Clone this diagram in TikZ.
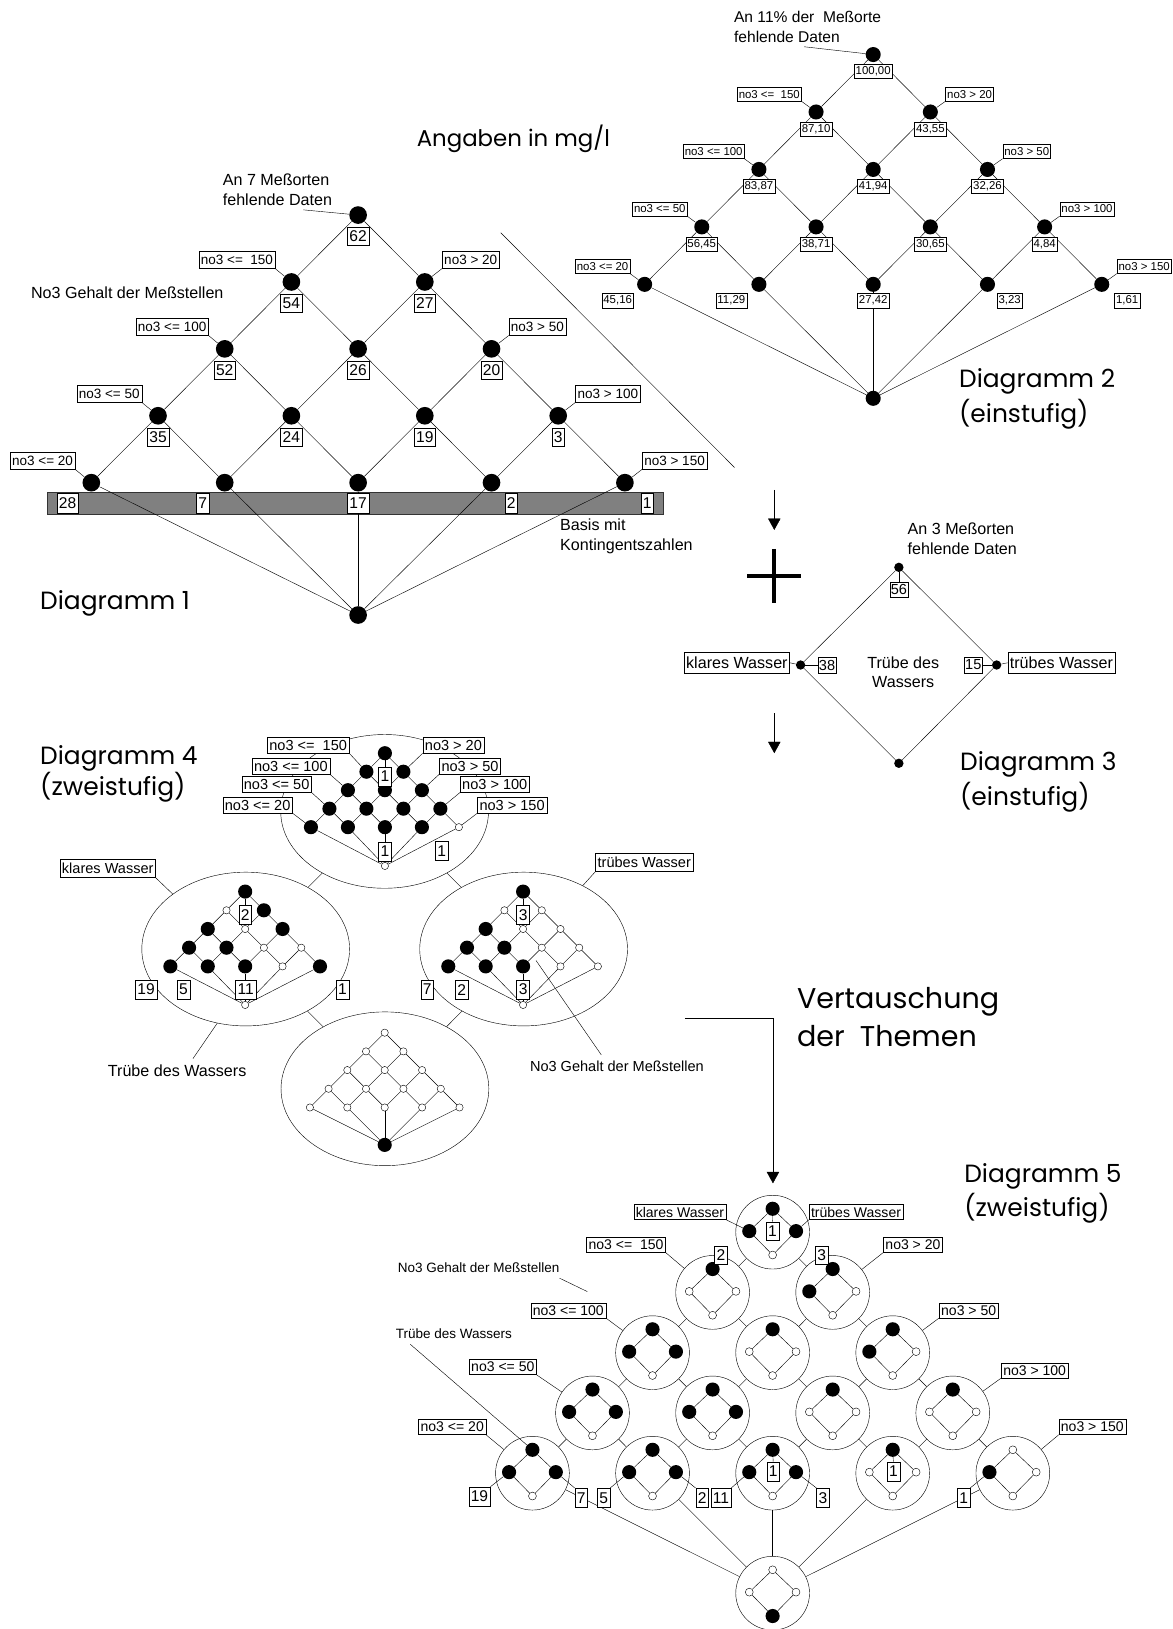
\documentclass[tikz,border=0pt]{standalone}
\usepackage{fontspec}
\setmainfont{Liberation Sans}
\newfontfamily\ttlfont{Poppins}
\usetikzlibrary{shapes.geometric,arrows.meta,calc}
\pgfdeclarelayer{bar}
\pgfdeclarelayer{lines}
\pgfsetlayers{bar,lines,main}
\newcommand\latedges[2]{%
  \foreach \r in {0,...,3}{\foreach \k in {0,...,\r}{%
    \pgfmathtruncatemacro\rn{\r+1}\pgfmathtruncatemacro\kn{\k+1}%
    \draw (#1\r\k) -- (#1\rn\k) (#1\r\k) -- (#1\rn\kn);}}%
  \foreach \k in {0,...,4}{\draw (#14\k) -- (#2);}}
\tikzset{
 lbl/.style={draw, fill=white, inner xsep=2pt, inner ysep=0pt},
 lA/.style={lbl, font=\fontsize{13}{15}\selectfont, minimum height=16.5pt},
 vA/.style={lbl, font=\fontsize{15}{17}\selectfont, minimum height=17.5pt},
 lB/.style={lbl, inner xsep=1.5pt, font=\fontsize{11}{13}\selectfont, minimum height=13.5pt},
 lC/.style={lbl, font=\fontsize{15.5}{17}\selectfont, minimum height=20.5pt},
 vC/.style={lbl, inner xsep=1pt, font=\fontsize{14}{16}\selectfont, minimum height=15pt},
 lD/.style={lbl, font=\fontsize{14}{16}\selectfont, minimum height=15.5pt},
 vD/.style={lbl, font=\fontsize{15}{17}\selectfont, minimum height=18.5pt},
 lE/.style={lbl, font=\fontsize{13.5}{15}\selectfont, minimum height=14.5pt},
 txt/.style={inner sep=0pt, align=left, font=\fontsize{15.5}{19}\selectfont},
 stxt/.style={inner sep=0pt, align=left, font=\fontsize{13}{15}\selectfont},
 ttl/.style={inner sep=0pt, align=left, font=\ttlfont\fontsize{24}{33}\selectfont},
 bA/.style={circle, fill=black, inner sep=0pt, minimum size=17pt},
 bB/.style={circle, fill=black, inner sep=0pt, minimum size=14.5pt},
 bC/.style={circle, fill=black, inner sep=0pt, minimum size=9pt},
 fb/.style={circle, fill=black, inner sep=0pt, minimum size=13.6pt},
 fw/.style={circle, draw, fill=white, inner sep=0pt, minimum size=7pt},
 gb/.style={circle, fill=black, inner sep=0pt, minimum size=13.6pt},
 gw/.style={circle, draw, fill=white, inner sep=0pt, minimum size=7.6pt},
 ell/.style={ellipse, draw, inner sep=0pt, minimum width=200pt, minimum height=148pt},
 circfive/.style={circle, draw, inner sep=0pt, minimum size=71pt},
 arr/.style={-{Triangle[width=12pt,length=11pt]}}
}
\begin{document}
\begin{tikzpicture}[x=1pt,y=-1pt,line width=1pt]
\useasboundingbox (0,0) rectangle (1129,1568);

%================ Diagram 1
\begin{pgfonlayer}{bar}
\draw[fill=black!50, draw=black!80] (45,473.5) rectangle (638,494.5);
\end{pgfonlayer}
\node[ttl, font=\ttlfont\fontsize{22}{26}\selectfont, anchor=north west] (angaben) at (401,120.3) {Angaben in mg/l};
\foreach \r in {0,...,4}{\foreach \k in {0,...,\r}{
  \node[bA] (A\r\k) at ({344.7+(2*\k-\r)*64.2},{207+\r*64.4}) {};}}
\node[bA] (Abot) at (344.7,592) {};
\foreach \r/\k/\v in {0/0/62,1/0/54,1/1/27,2/0/52,2/1/26,2/2/20,3/0/35,3/1/24,3/2/19,3/3/3}{
  \node[vA, anchor=north] (Av\r\k) at ($(A\r\k)+(0,11.5)$) {\v};}
\node[vA, minimum height=19.5pt] (Av40) at (65,484.5) {28};
\node[vA, minimum height=19.5pt] (Av41) at (195,484.5) {7};
\node[vA, minimum height=19.5pt] (Av42) at (344.7,484.5) {17};
\node[vA, minimum height=19.5pt] (Av43) at (492,484.5) {2};
\node[vA, minimum height=19.5pt] (Av44) at (623,484.5) {1};
\node[lA, anchor=south east] (Al1) at ($(A10)+(-15.5,-12.8)$) {no3 <=\ \ 150};
\node[lA, anchor=south east] (Al2) at ($(A20)+(-15.5,-12.8)$) {no3 <= 100};
\node[lA, anchor=south east] (Al3) at ($(A30)+(-15.5,-12.8)$) {no3 <= 50};
\node[lA, anchor=south east] (Al4) at ($(A40)+(-15.5,-12.8)$) {no3 <= 20};
\node[lA, anchor=south west] (Ar1) at ($(A11)+(16.5,-12.8)$) {no3 > 20};
\node[lA, anchor=south west] (Ar2) at ($(A22)+(16.5,-12.8)$) {no3 > 50};
\node[lA, anchor=south west] (Ar3) at ($(A33)+(16.5,-12.8)$) {no3 > 100};
\node[lA, anchor=south west] (Ar4) at ($(A44)+(16.5,-12.8)$) {no3 > 150};
\node[txt, anchor=north west] (An7) at (214.3,167) {An 7 Meßorten\\fehlende Daten};
\coordinate (An7c) at (292,202);
\node[txt] (gehA) at (122.5,281.5) {No3 Gehalt der Meßstellen};
\node[txt, anchor=north west] (basis) at (539,499) {Basis mit\\Kontingentszahlen};
\node[ttl, anchor=north west] (dg1) at (38.5,568) {Diagramm 1};
\coordinate (sepa) at (482,224);
\coordinate (sepb) at (707,450);

%================ Diagram 2
\foreach \r in {0,...,4}{\foreach \k in {0,...,\r}{
  \node[bB] (B\r\k) at ({840.5+(2*\k-\r)*55},{52.5+\r*55.3}) {};}}
\node[bB] (Bbot) at (840.5,383.4) {};
\foreach \r/\k/\v in {0/0/{100,00},1/0/{87,10},1/1/{43,55},2/0/{83,87},2/1/{41,94},2/2/{32,26},3/0/{56,45},3/1/{38,71},3/2/{30,65},3/3/{4,84}}{
  \node[lB, anchor=north] (Bv\r\k) at ($(B\r\k)+(0,9.5)$) {\v};}
\node[lB, minimum height=15pt, anchor=north east] (Bv40) at ($(B40)+(-10.5,8)$) {45,16};
\node[lB, minimum height=15pt, anchor=north east] (Bv41) at ($(B41)+(-11.5,8)$) {11,29};
\node[lB, minimum height=15pt, anchor=north] (Bv42) at ($(B42)+(0,8)$) {27,42};
\node[lB, minimum height=15pt, anchor=north west] (Bv43) at ($(B43)+(9,8)$) {3,23};
\node[lB, minimum height=15pt, anchor=north west] (Bv44) at ($(B44)+(12,8)$) {1,61};
\node[lB, anchor=south east] (Bl1) at ($(B10)+(-14,-10.3)$) {no3 <=\ \ 150};
\node[lB, anchor=south east] (Bl2) at ($(B20)+(-14,-10.3)$) {no3 <= 100};
\node[lB, anchor=south east] (Bl3) at ($(B30)+(-14,-10.3)$) {no3 <= 50};
\node[lB, anchor=south east] (Bl4) at ($(B40)+(-14,-10.3)$) {no3 <= 20};
\node[lB, anchor=south west] (Br1) at ($(B11)+(14.5,-10.3)$) {no3 > 20};
\node[lB, anchor=south west] (Br2) at ($(B22)+(14.5,-10.3)$) {no3 > 50};
\node[lB, anchor=south west] (Br3) at ($(B33)+(14.5,-10.3)$) {no3 > 100};
\node[lB, anchor=south west] (Br4) at ($(B44)+(14.5,-10.3)$) {no3 > 150};
\node[txt, font=\fontsize{15}{18.5}\selectfont, anchor=north west] (An11) at (706.4,11) {An 11\% der\ \ Meßorte\\fehlende Daten};
\coordinate (An11c) at (774,45);
\node[ttl, anchor=north west] (dg2) at (923,355) {Diagramm 2\\(einstufig)};

%================ Diagram 3
\coordinate (a1s) at (745.3,471.6);
\coordinate (a1e) at (745.3,510.1);
\coordinate (a2s) at (745.3,686.3);
\coordinate (a2e) at (745.3,725);
\coordinate (plw) at (719.3,554.4);
\coordinate (ple) at (771.3,554.4);
\coordinate (pln) at (745.3,528.4);
\coordinate (pls) at (745.3,580.4);
\node[bC] (D3t) at (865.2,546.1) {};
\node[bC] (D3l) at (770.6,640.1) {};
\node[bC] (D3r) at (959.3,640.1) {};
\node[bC] (D3b) at (865.2,734.7) {};
\node[vC, anchor=north] (D3v56) at (865.2,559.8) {56};
\node[vC, anchor=west] (D3v38) at (787.1,640.1) {38};
\node[vC, anchor=east] (D3v15) at (945.8,640.1) {15};
\node[lC, anchor=east] (D3kl) at (760.3,638) {klares Wasser};
\node[lC, anchor=west] (D3tr) at (969.8,638) {trübes Wasser};
\node[txt, align=center] (D3tw) at (869.4,647) {Trübe des\\Wassers};
\node[txt, anchor=north west] (An3) at (873.5,503) {An 3 Meßorten\\fehlende Daten};
\node[ttl, anchor=north west] (dg3) at (924,723.5) {Diagramm 3\\(einstufig)};

%================ Diagram 4
\node[ell] (E4T) at (370.2,781) {};
\node[ell] (E4L) at (236.5,913.5) {};
\node[ell] (E4R) at (504,913.5) {};
\node[ell] (E4B) at (370.5,1048) {};
% top lattice
\foreach \r/\k/\s in {0/0/fb,1/0/fb,1/1/fb,2/0/fb,2/1/fb,2/2/fb,3/0/fb,3/1/fb,3/2/fb,3/3/fb,4/0/fb,4/1/fb,4/2/fb,4/3/fb,4/4/fw}{
  \node[\s] (T\r\k) at ({370.5+(2*\k-\r)*17.8},{725+\r*17.8}) {};}
\node[fw] (Tbot) at (370.5,833.5) {};
% left lattice
\foreach \r/\k/\s in {0/0/fb,1/0/fw,1/1/fb,2/0/fb,2/1/fw,2/2/fb,3/0/fb,3/1/fb,3/2/fw,3/3/fw,4/0/fb,4/1/fb,4/2/fb,4/3/fw,4/4/fb}{
  \node[\s] (L\r\k) at ({236+(2*\k-\r)*18},{858.2+\r*18}) {};}
\node[fw] (Lbot) at (236,967.3) {};
% right lattice
\foreach \r/\k/\s in {0/0/fb,1/0/fw,1/1/fw,2/0/fb,2/1/fw,2/2/fw,3/0/fb,3/1/fb,3/2/fw,3/3/fw,4/0/fb,4/1/fb,4/2/fb,4/3/fw,4/4/fw}{
  \node[\s] (R\r\k) at ({503.5+(2*\k-\r)*18},{858.2+\r*18}) {};}
\node[fw] (Rbot) at (503.5,967.3) {};
% bottom lattice
\foreach \r in {0,...,4}{\foreach \k in {0,...,\r}{
  \node[fw] (U\r\k) at ({370.3+(2*\k-\r)*18},{994+\r*18}) {};}}
\node[fb] (Ubot) at (370.3,1102) {};
% boxes
\node[vD, anchor=north] (Tv1) at (370.5,738) {1};
\node[vD, anchor=north] (Tv2) at (370.5,810) {1};
\node[vD] (Tv3) at (425.2,819) {1};
\node[vD, anchor=north] (Lv1) at (236,871) {2};
\node[vD] (Lv2) at (140.6,952.5) {19};
\node[vD] (Lv3) at (176.7,952.5) {5};
\node[vD] (Lv4) at (236.5,952.5) {11};
\node[vD] (Lv5) at (329.7,952.5) {1};
\node[vD, anchor=north] (Rv1) at (503.5,871) {3};
\node[vD] (Rv2) at (411.2,952.5) {7};
\node[vD] (Rv3) at (444.5,952.5) {2};
\node[vD] (Rv4) at (503.5,952.5) {3};
% labels
\node[lD, anchor=south east] (Tl1) at (336.2,725.1) {no3 <=\ \ 150};
\node[lD, anchor=south east] (Tl2) at (317.6,745.3) {no3 <= 100};
\node[lD, anchor=south east] (Tl3) at (300,762.9) {no3 <= 50};
\node[lD, anchor=south east] (Tl4) at (281.7,782.8) {no3 <= 20};
\node[lD, anchor=south west] (Tr1) at (406.8,725.1) {no3 > 20};
\node[lD, anchor=south west] (Tr2) at (422.8,745.3) {no3 > 50};
\node[lD, anchor=south west] (Tr3) at (442.7,762.9) {no3 > 100};
\node[lD, anchor=south west] (Tr4) at (459.4,782.8) {no3 > 150};
\node[lD, minimum height=18pt, anchor=south east] (D4kl) at (150,845) {klares Wasser};
\node[lD, minimum height=18pt, anchor=south west] (D4tr) at (573.1,839) {trübes Wasser};
\node[txt] (D4tw) at (170.5,1030.6) {Trübe des Wassers};
\coordinate (D4twc) at (185.7,1019);
\node[txt, font=\fontsize{14}{16}\selectfont] (D4no) at (593.8,1026.6) {No3 Gehalt der Meßstellen};
\coordinate (D4noa) at (578.8,1015.4);
\coordinate (D4nob) at (516,924.6);
\node[ttl, font=\ttlfont\fontsize{24}{30}\selectfont, anchor=north west] (dg4) at (38.5,717) {Diagramm 4\\(zweistufig)};

%================ swap arrow
\node[ttl, font=\ttlfont\fontsize{27.5}{37}\selectfont, anchor=north west] (vert) at (767,950) {Vertauschung\\der\ \ Themen};
\coordinate (vA) at (659.3,980);
\coordinate (vC) at (744,1139);

%================ Diagram 5
\foreach \r/\k/\pa/\pb/\pc/\pd in {0/0/gb/gb/gb/gw,1/0/gb/gw/gw/gw,1/1/gb/gb/gw/gw,2/0/gb/gb/gb/gw,2/1/gb/gw/gw/gw,2/2/gb/gb/gw/gw,3/0/gb/gb/gb/gw,3/1/gb/gb/gb/gw,3/2/gb/gw/gw/gw,3/3/gb/gw/gw/gw,4/0/gb/gb/gb/gw,4/1/gb/gb/gb/gw,4/2/gb/gb/gb/gw,4/3/gb/gw/gw/gw,4/4/gw/gb/gw/gw}{
  \node[circfive] (C\r\k) at ({743.7+(2*\k-\r)*57.8},{1186+\r*58}) {};
  \node[\pa] (Ct\r\k) at ({743.7+(2*\k-\r)*57.8},{1186+\r*58-22.5}) {};
  \node[\pb] (Cl\r\k) at ({743.7+(2*\k-\r)*57.8-22.5},{1186+\r*58-1}) {};
  \node[\pc] (Cr\r\k) at ({743.7+(2*\k-\r)*57.8+22.5},{1186+\r*58-1}) {};
  \node[\pd] (Cb\r\k) at ({743.7+(2*\k-\r)*57.8},{1186+\r*58+22}) {};}
\node[circfive] (Cbot) at (743.7,1533.5) {};
\node[gw] (Ctb) at (743.7,1511) {};
\node[gw] (Clb) at (721.2,1532.5) {};
\node[gw] (Crb) at (766.2,1532.5) {};
\node[gb] (Cbb) at (743.7,1555.5) {};
% boxes
\node[vD, minimum height=17.5pt] (Cv00) at (743.5,1184.7) {1};
\node[vD, minimum height=17.5pt] (Cv10) at (694,1208) {2};
\node[vD, minimum height=17.5pt] (Cv11) at (791,1208) {3};
\node[vD] (Cv40l) at (461.5,1440.5) {19};
\node[vD] (Cv40r) at (559.5,1441.7) {7};
\node[vD] (Cv41l) at (581,1441.7) {5};
\node[vD] (Cv41r) at (675.9,1441.7) {2};
\node[vD] (Cv42l) at (693.9,1441.7) {11};
\node[vD] (Cv42c) at (744.2,1416.4) {1};
\node[vD] (Cv42r) at (792.2,1441.7) {3};
\node[vD] (Cv43c) at (859.9,1416.4) {1};
\node[vD] (Cv44l) at (927.5,1441.7) {1};
% labels
\node[lE, anchor=south east] (Ekl) at (699.2,1174.2) {klares Wasser};
\node[lE, anchor=south west] (Etr) at (778.5,1174.2) {trübes Wasser};
\node[lE, anchor=south east] (El1) at (640.8,1205.7) {no3 <=\ \ 150};
\node[lE, anchor=south east] (El2) at (583.4,1268.8) {no3 <= 100};
\node[lE, anchor=south east] (El3) at (516.6,1323.4) {no3 <= 50};
\node[lE, anchor=south east] (El4) at (467.9,1381.1) {no3 <= 20};
\node[lE, anchor=south west] (Er1) at (850.1,1205.7) {no3 > 20};
\node[lE, anchor=south west] (Er2) at (903.7,1268.8) {no3 > 50};
\node[lE, anchor=south west] (Er3) at (963.5,1326.6) {no3 > 100};
\node[lE, anchor=south west] (Er4) at (1019,1381.1) {no3 > 150};
\node[stxt] (E5no) at (460.7,1220.4) {No3 Gehalt der Meßstellen};
\coordinate (E5noa) at (538.6,1230.3);
\coordinate (E5nob) at (565.3,1243.2);
\node[stxt] (E5tw) at (436.8,1284) {Trübe des Wassers};
\coordinate (E5twa) at (395,1294);
\node[ttl, anchor=north west] (dg5) at (928,1119.6) {Diagramm 5\\(zweistufig)};

%================ connectors
\begin{pgfonlayer}{lines}
 % D1
 \latedges{A}{Abot}
 \foreach \n in {1,2,3,4}{\draw (Al\n.south east) -- (A\n0); \draw (Ar\n.south west) -- (A\n\n);}
 \draw (An7c) -- (A00);
 \draw (sepa) -- (sepb);
 % D2
 \latedges{B}{Bbot}
 \foreach \n in {1,2,3,4}{\draw (Bl\n.south east) -- (B\n0); \draw (Br\n.south west) -- (B\n\n);}
 \draw (An11c) -- (B00);
 % D3
 \draw[arr] (a1s) -- (a1e);
 \draw[arr] (a2s) -- (a2e);
 \draw[line width=3.8pt] (plw) -- (ple) (pln) -- (pls);
 \draw (D3t) -- (D3l) -- (D3b) -- (D3r) -- (D3t);
 \draw (D3t) -- (D3v56.north);
 \draw (D3l) -- (D3v38.west);
 \draw (D3r) -- (D3v15.east);
 \draw (D3l) -- (D3kl.east);
 \draw (D3r) -- (D3tr.west);
 % D4
 \draw (E4T) -- (E4L); \draw (E4T) -- (E4R); \draw (E4L) -- (E4B); \draw (E4R) -- (E4B);
 \latedges{T}{Tbot}
 \latedges{L}{Lbot}
 \latedges{R}{Rbot}
 \latedges{U}{Ubot}
 \draw (T00) -- (Tv1.north);
 \draw (L00) -- (Lv1.north);
 \draw (R00) -- (Rv1.north);
 \foreach \n in {1,2,3,4}{\draw (Tl\n.south east) -- (T\n0); \draw (Tr\n.south west) -- (T\n\n);}
 \draw (D4kl.south east) -- (E4L.143);
 \draw (D4tr.south west) -- (E4R.47);
 \draw (D4twc) -- (E4L.249);
 \draw (D4noa) -- (D4nob);
 % swap arrow
 \draw[arr] (vA) -| (vC);
 % D5
 \latedges{C}{Cbot}
 \foreach \r/\k in {0/0,1/0,1/1,2/0,2/1,2/2,3/0,3/1,3/2,3/3,4/0,4/1,4/2,4/3,4/4}{
   \draw (Ct\r\k) -- (Cl\r\k) -- (Cb\r\k) -- (Cr\r\k) -- (Ct\r\k);}
 \draw (Ctb) -- (Clb) -- (Cbb) -- (Crb) -- (Ctb);
 \draw (Ct00) -- (Cv00.north);
 \draw (Ct42) -- (Cv42c.north);
 \draw (Ct43) -- (Cv43c.north);
 \draw (Cl40) -- (Cv40l.north east);
 \draw (Cr40) -- (Cv40r.north west);
 \draw (Cl41) -- (Cv41l.north east);
 \draw (Cr41) -- (Cv41r.north west);
 \draw (Cl42) -- (Cv42l.north east);
 \draw (Cr42) -- (Cv42r.north west);
 \draw (Cl44) -- (Cv44l.north east);
 \draw (Ekl.south east) -- (Cl00);
 \draw (Etr.south west) -- (Cr00);
 \draw (El1.south east) -- (C10);
 \draw (El2.south east) -- (C20);
 \draw (El3.south east) -- (C30);
 \draw (El4.south east) -- (C40);
 \draw (Er1.south west) -- (C11);
 \draw (Er2.south west) -- (C22);
 \draw (Er3.south west) -- (C33);
 \draw (Er4.south west) -- (C44);
 \draw (E5noa) -- (E5nob);
 \draw (E5twa) -- (Ct40);
\end{pgfonlayer}
\end{tikzpicture}
\end{document}
